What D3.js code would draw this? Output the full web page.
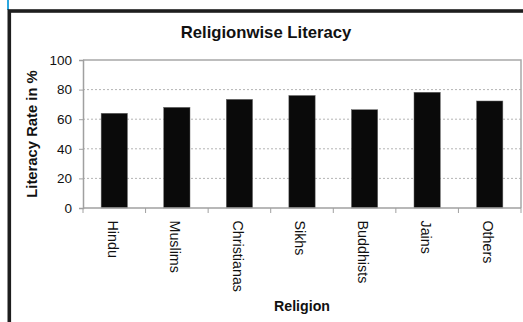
<!DOCTYPE html>
<html>
<head>
<meta charset="utf-8">
<script src="https://cdn.jsdelivr.net/npm/d3@7"></script>
<style>
  body { margin: 0; background: #fff; }
  text { font-family: Arial, "Liberation Sans", sans-serif; fill: #111; }
</style>
</head>
<body>
<div id="chart"></div>
<script>
const religions = ["Hindu", "Muslims", "Christianas", "Sikhs", "Buddhists", "Jains", "Others"];
const literacy = [64, 68, 73.4, 76, 66.4, 78.2, 72.3];
const yTicks = [0, 20, 40, 60, 80, 100];

const W = 523, H = 322;
const PLOT = {LEFT: 83, RIGHT: 521, TOP: 60, BOTTOM: 208};

const svg = d3.select("#chart").append("svg")
    .attr("width", W)
    .attr("height", H);

// little blue line poking out above the frame
svg.append("line")
    .attr("x1", 8).attr("x2", 8)
    .attr("y1", 0).attr("y2", 10)
    .attr("stroke", "#2aa7e0")
    .attr("stroke-width", 2);

// heavy outer frame (runs off the right and bottom)
svg.append("rect")
    .attr("x", 9.3).attr("y", 11)
    .attr("width", W + 20).attr("height", H + 20)
    .attr("fill", "none")
    .attr("stroke", "#1e1e1e")
    .attr("stroke-width", 3.6);

const x = d3.scaleBand()
    .domain(religions)
    .range([PLOT.LEFT, PLOT.RIGHT])
    .paddingInner(0.58)
    .paddingOuter(0.29);

const y = d3.scaleLinear()
    .domain([0, 100])
    .range([PLOT.BOTTOM, PLOT.TOP]);

// dotted gridlines
svg.append("g")
    .selectAll("line")
    .data(yTicks.filter(d => d > 0 && d < 100))
    .join("line")
    .attr("x1", PLOT.LEFT).attr("x2", PLOT.RIGHT)
    .attr("y1", d => y(d)).attr("y2", d => y(d))
    .attr("stroke", "#b4b4b4")
    .attr("stroke-width", 1)
    .attr("stroke-dasharray", "2,2");

// plot area border (top and right)
svg.append("path")
    .attr("d", `M${PLOT.LEFT},${PLOT.TOP}H${PLOT.RIGHT}V${PLOT.BOTTOM}`)
    .attr("fill", "none")
    .attr("stroke", "#a8a8a8")
    .attr("stroke-width", 1.5);

// bars
svg.append("g")
    .selectAll("rect")
    .data(literacy)
    .join("rect")
    .attr("x", (d, i) => x(religions[i]))
    .attr("y", d => y(d))
    .attr("width", x.bandwidth())
    .attr("height", d => PLOT.BOTTOM - y(d))
    .attr("fill", "#0a0a0a")
    .attr("stroke", "#666")
    .attr("stroke-width", 0.5);

// y axis
const yAxis = svg.append("g")
    .attr("transform", `translate(${PLOT.LEFT},0)`)
    .call(d3.axisLeft(y).tickValues(yTicks).tickSize(4).tickPadding(7));
yAxis.select(".domain").attr("stroke", "#a0a0a0").attr("stroke-width", 1.5);
yAxis.selectAll(".tick line").attr("stroke", "#a0a0a0");
yAxis.selectAll(".tick text")
    .attr("font-size", 13.5)
    .attr("fill", "#1a1a1a")
    .style("font-family", "Arial, 'Liberation Sans', sans-serif");

// x axis: ticks sit on category boundaries
const xAxis = svg.append("g")
    .attr("transform", `translate(0,${PLOT.BOTTOM})`);
xAxis.append("line")
    .attr("x1", PLOT.LEFT).attr("x2", PLOT.RIGHT)
    .attr("stroke", "#a0a0a0")
    .attr("stroke-width", 1.5);
xAxis.selectAll(".bound")
    .data(d3.range(religions.length + 1))
    .join("line")
    .attr("class", "bound")
    .attr("x1", i => PLOT.LEFT + i * x.step())
    .attr("x2", i => PLOT.LEFT + i * x.step())
    .attr("y1", 0).attr("y2", 5)
    .attr("stroke", "#a0a0a0");
xAxis.selectAll(".lab")
    .data(religions)
    .join("text")
    .attr("class", "lab")
    .attr("transform", d => `translate(${x(d) + x.bandwidth() / 2 - 1.5},12.5) rotate(90)`)
    .attr("dy", "0.35em")
    .attr("font-size", 14.3)
    .attr("fill", "#1a1a1a")
    .text(d => d);

// titles
svg.append("text")
    .attr("x", 266)
    .attr("y", 37.5)
    .attr("text-anchor", "middle")
    .attr("font-size", 16.7)
    .attr("font-weight", "bold")
    .text("Religionwise Literacy");

svg.append("text")
    .attr("transform", `translate(36.5,${(PLOT.TOP + PLOT.BOTTOM) / 2}) rotate(-90)`)
    .attr("text-anchor", "middle")
    .attr("font-size", 14.8)
    .attr("font-weight", "bold")
    .text("Literacy Rate in %");

svg.append("text")
    .attr("x", (PLOT.LEFT + PLOT.RIGHT) / 2)
    .attr("y", 310.5)
    .attr("text-anchor", "middle")
    .attr("font-size", 14.2)
    .attr("font-weight", "bold")
    .text("Religion");
</script>
</body>
</html>
